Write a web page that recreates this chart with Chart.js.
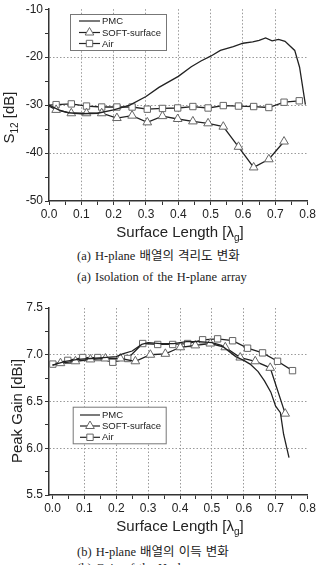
<!DOCTYPE html>
<html>
<head>
<meta charset="utf-8">
<script src="https://cdn.jsdelivr.net/npm/chart.js@4.4.1/dist/chart.umd.min.js"></script>
<style>
  html, body { margin: 0; padding: 0; background: #fff; width: 318px; height: 565px; overflow: hidden; }
  .plot { position: absolute; left: 0; width: 318px; }
  #isoWrap { top: 0; height: 246px; }
  #gainWrap { top: 290px; height: 254px; }
  .cap { position: absolute; left: 77px; font-family: "Liberation Serif", "Noto Sans CJK KR", serif; font-size: 12.5px; line-height: 16px; color: #222; white-space: nowrap; word-spacing: 1px; }
</style>
</head>
<body>
<div class="plot" id="isoWrap"><canvas id="isoChart" width="318" height="246"></canvas></div>
<div class="cap" style="top:248px">(a) H-plane 배열의 격리도 변화</div>
<div class="cap" style="top:269px">(a) Isolation of the H-plane array</div>
<div class="plot" id="gainWrap"><canvas id="gainChart" width="318" height="254"></canvas></div>
<div class="cap" style="top:544px">(b) H-plane 배열의 이득 변화</div>
<div class="cap" style="top:560px">(b) Gain of the H-plane array</div>
<script>
// ---- data (a) isolation, S12 [dB] ----
const isoPmcX = [0.0, 0.03, 0.06, 0.10, 0.15, 0.20, 0.25, 0.30, 0.34, 0.40, 0.44, 0.47, 0.50, 0.53, 0.57, 0.60, 0.63, 0.65, 0.67, 0.69, 0.71, 0.73, 0.76, 0.775, 0.793];
const isoPmcY = [-30.0, -31.0, -31.6, -31.8, -31.7, -31.0, -30.0, -28.2, -26.3, -24.0, -22.0, -20.8, -19.8, -18.6, -17.8, -17.1, -16.8, -16.5, -16.0, -16.6, -16.3, -16.7, -18.6, -22.1, -29.9];
const isoSoftX = [0.0, 0.022, 0.069, 0.116, 0.163, 0.21, 0.257, 0.304, 0.351, 0.398, 0.445, 0.492, 0.539, 0.586, 0.633, 0.68, 0.727];
const isoSoftY = [-30.2, -31.0, -31.7, -31.7, -31.7, -32.7, -32.2, -33.6, -32.3, -32.9, -33.4, -33.8, -34.5, -38.7, -43.0, -41.3, -37.6];
const isoAirX = [0.0, 0.022, 0.069, 0.116, 0.163, 0.21, 0.257, 0.304, 0.351, 0.398, 0.445, 0.492, 0.539, 0.586, 0.633, 0.68, 0.727, 0.774];
const isoAirY = [-30.0, -29.9, -29.75, -30.2, -30.4, -30.4, -30.4, -30.85, -30.7, -30.6, -30.3, -30.6, -30.1, -30.2, -30.3, -30.5, -29.4, -29.1];
const isoYTicks = [-50, -40, -30, -20, -10];

// ---- data (b) peak gain [dBi] ----
const gainPmcX = [0.0, 0.04, 0.08, 0.12, 0.16, 0.20, 0.22, 0.25, 0.28, 0.30, 0.34, 0.38, 0.42, 0.46, 0.50, 0.53, 0.56, 0.575, 0.60, 0.62, 0.645, 0.665, 0.685, 0.70, 0.715, 0.725, 0.742];
const gainPmcY = [6.89, 6.93, 6.95, 6.96, 6.97, 6.98, 7.01, 7.04, 7.11, 7.13, 7.12, 7.12, 7.14, 7.14, 7.13, 7.10, 7.02, 6.98, 6.94, 6.90, 6.82, 6.72, 6.60, 6.45, 6.38, 6.15, 5.90];
const gainSoftX = [0.0, 0.025, 0.072, 0.119, 0.166, 0.213, 0.26, 0.307, 0.354, 0.401, 0.448, 0.495, 0.542, 0.589, 0.636, 0.683, 0.73];
const gainSoftY = [6.89, 6.91, 6.93, 6.95, 6.96, 6.96, 6.93, 7.00, 7.01, 7.08, 7.10, 7.12, 7.08, 6.97, 6.93, 6.86, 6.37];
const gainAirX = [0.001, 0.048, 0.095, 0.142, 0.189, 0.236, 0.283, 0.33, 0.377, 0.424, 0.471, 0.518, 0.565, 0.612, 0.659, 0.706, 0.753];
const gainAirY = [6.90, 6.94, 6.97, 6.97, 6.92, 6.96, 7.12, 7.11, 7.11, 7.12, 7.16, 7.17, 7.15, 7.07, 7.02, 6.93, 6.83];
const gainYTicks = [5.5, 6.0, 6.5, 7.0, 7.5];

const xTicks = [0.0, 0.1, 0.2, 0.3, 0.4, 0.5, 0.6, 0.7, 0.8];
const seriesNames = ['PMC', 'SOFT-surface', 'Air'];

const SANS = '"Liberation Sans", Arial, sans-serif';
const LINE = '#222';
const MARK = '#666';

const pts = (xs, ys) => xs.map((x, i) => ({ x, y: ys[i] }));

// major ticks plus a minor tick halfway between each pair
const withMinor = majors => {
  const out = [];
  majors.forEach((v, i) => {
    out.push(v);
    if (i < majors.length - 1) out.push((v + majors[i + 1]) / 2);
  });
  return out;
};

const gridColor = majors => c => {
  if (!c.tick) return 'rgba(0,0,0,0)';
  const v = c.tick.value;
  const inner = majors.includes(v) && v !== majors[0] && v !== majors[majors.length - 1];
  return inner ? '#9a9a9a' : 'rgba(0,0,0,0)';
};

function axis(majors, min, max, fmt, fit) {
  return {
    type: 'linear', min, max,
    afterBuildTicks: s => { s.ticks = withMinor(majors).map(v => ({ value: v })); },
    afterFit: fit,
    grid: { color: gridColor(majors), lineWidth: 1, drawTicks: true, tickLength: 4, tickColor: '#333', tickWidth: 1 },
    border: { display: true, color: '#333', width: 1.5, dash: [1.5, 2] },
    ticks: {
      autoSkip: false, maxRotation: 0, minRotation: 0, padding: 2, color: '#222',
      font: { family: SANS, size: 12 },
      callback: v => majors.includes(v) ? fmt(v) : ''
    }
  };
}

function drawParts(ctx, parts, x, y, size) {
  // parts: [text, isSub]; centred on x, baseline y
  const subSize = Math.round(size * 0.68);
  const w = parts.reduce((acc, [t, sub]) => {
    ctx.font = `${sub ? subSize : size}px ${SANS}`;
    return acc + ctx.measureText(t).width;
  }, 0);
  let cx = x - w / 2;
  parts.forEach(([t, sub]) => {
    ctx.font = `${sub ? subSize : size}px ${SANS}`;
    ctx.fillText(t, cx, sub ? y + 4 : y);
    cx += ctx.measureText(t).width;
  });
}

function drawMarker(ctx, style, x, y) {
  ctx.save();
  ctx.fillStyle = '#fff';
  ctx.strokeStyle = MARK;
  ctx.lineWidth = 1;
  ctx.beginPath();
  if (style === 'triangle') {
    const r = 5;
    ctx.moveTo(x, y - r);
    ctx.lineTo(x + r * 0.866, y + r / 2);
    ctx.lineTo(x - r * 0.866, y + r / 2);
    ctx.closePath();
  } else if (style === 'rect') {
    const h = 3.2;
    ctx.rect(x - h, y - h, 2 * h, 2 * h);
  }
  ctx.fill();
  ctx.stroke();
  ctx.restore();
}

// axis titles + boxed legend drawn on the canvas
const decor = cfg => ({
  id: 'decor',
  afterDraw(chart) {
    const ctx = chart.ctx;
    ctx.save();
    ctx.fillStyle = '#222';
    ctx.textAlign = 'left';
    ctx.textBaseline = 'alphabetic';
    drawParts(ctx, [['Surface Length [\u03bb', false], ['g', true], [']', false]], cfg.xTitle.x, cfg.xTitle.y, 15);

    ctx.save();
    ctx.translate(cfg.yTitle.x, cfg.yTitle.y);
    ctx.rotate(-Math.PI / 2);
    drawParts(ctx, cfg.yTitle.parts, 0, 0, 15);
    ctx.restore();

    const b = cfg.legend;
    ctx.fillStyle = '#fff';
    ctx.fillRect(b.x, b.y, b.w, b.h);
    ctx.strokeStyle = '#777';
    ctx.lineWidth = 1;
    ctx.strokeRect(b.x + 0.5, b.y + 0.5, b.w, b.h);
    const styles = [false, 'triangle', 'rect'];
    seriesNames.forEach((name, i) => {
      const ly = b.rows[i];
      ctx.strokeStyle = LINE;
      ctx.lineWidth = 1.2;
      ctx.beginPath();
      ctx.moveTo(b.x1, ly);
      ctx.lineTo(b.x2, ly);
      ctx.stroke();
      if (styles[i]) drawMarker(ctx, styles[i], (b.x1 + b.x2) / 2, ly);
      ctx.fillStyle = '#222';
      ctx.font = `9.5px ${SANS}`;
      ctx.textBaseline = 'middle';
      ctx.fillText(name, b.x2 + 2, ly + 0.5);
    });
    ctx.restore();
  }
});

function datasets(pmc, soft, air) {
  const base = { borderColor: LINE, borderWidth: 1.3, tension: 0, fill: false };
  const radius = r => c => (c.raw && c.raw.x === 0 ? 0 : r);
  return [
    { ...base, label: seriesNames[0], data: pmc, pointRadius: 0 },
    { ...base, label: seriesNames[1], data: soft, pointStyle: 'triangle', pointRadius: radius(5),
      pointBackgroundColor: '#fff', pointBorderColor: MARK, pointBorderWidth: 1 },
    { ...base, label: seriesNames[2], data: air, pointStyle: 'rect', pointRadius: radius(4.5),
      pointBackgroundColor: '#fff', pointBorderColor: MARK, pointBorderWidth: 1 }
  ];
}

const common = {
  responsive: false,
  animation: false,
  devicePixelRatio: 1,
  plugins: { legend: { display: false }, tooltip: { enabled: false } }
};

new Chart(document.getElementById('isoChart'), {
  type: 'line',
  data: { datasets: datasets(pts(isoPmcX, isoPmcY), pts(isoSoftX, isoSoftY), pts(isoAirX, isoAirY)) },
  options: {
    ...common,
    layout: { padding: { top: 9, right: 8, left: 0, bottom: 0 } },
    scales: {
      x: axis(xTicks, 0, 0.8, v => v.toFixed(1), s => { s.height = 45; }),
      y: axis(isoYTicks, -50, -10, v => String(v), s => { s.width = 49; })
    }
  },
  plugins: [decor({
    xTitle: { x: 180, y: 237 },
    yTitle: { x: 14, y: 117.5, parts: [['S', false], ['12', true], [' [dB]', false]] },
    legend: { x: 70, y: 14, w: 96, h: 36, x1: 79, x2: 100, rows: [21, 32.5, 43.5] }
  })]
});

new Chart(document.getElementById('gainChart'), {
  type: 'line',
  data: { datasets: datasets(pts(gainPmcX, gainPmcY), pts(gainSoftX, gainSoftY), pts(gainAirX, gainAirY)) },
  options: {
    ...common,
    layout: { padding: { top: 18, right: 10.5, left: 0, bottom: 0 } },
    scales: {
      x: axis(xTicks, -0.011, 0.8, v => v.toFixed(1), s => { s.height = 49; }),
      y: axis(gainYTicks, 5.5, 7.5, v => v.toFixed(1), s => { s.width = 49; })
    }
  },
  plugins: [decor({
    xTitle: { x: 180, y: 240.7 },
    yTitle: { x: 22, y: 121, parts: [['Peak Gain [dBi]', false]] },
    legend: { x: 72.7, y: 116.7, w: 93, h: 36.6, x1: 80, x2: 100, rows: [125, 136, 147.3] }
  })]
});
</script>
</body>
</html>
